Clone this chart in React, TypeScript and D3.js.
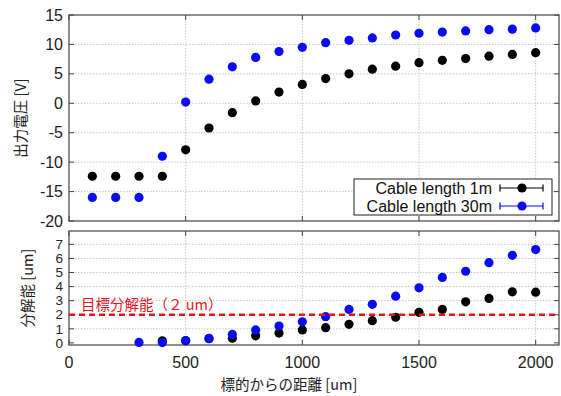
import React from "react";
import * as d3 from "d3";

const distances = [100, 200, 300, 400, 500, 600, 700, 800, 900, 1000, 1100, 1200, 1300, 1400, 1500, 1600, 1700, 1800, 1900, 2000];
const voltage1m = [-12.4, -12.4, -12.4, -12.4, -7.9, -4.2, -1.6, 0.4, 1.9, 3.2, 4.2, 5.0, 5.8, 6.3, 6.9, 7.3, 7.6, 8.0, 8.3, 8.6];
const voltage30m = [-16, -16, -16, -9.0, 0.2, 4.1, 6.2, 7.8, 8.8, 9.5, 10.3, 10.7, 11.1, 11.6, 11.9, 12.1, 12.3, 12.5, 12.6, 12.8];
const resDistances = [400, 500, 600, 700, 800, 900, 1000, 1100, 1200, 1300, 1400, 1500, 1600, 1700, 1800, 1900, 2000];
const resolution1m = [0.15, 0.15, 0.3, 0.33, 0.5, 0.7, 0.92, 1.08, 1.32, 1.58, 1.82, 2.17, 2.38, 2.92, 3.16, 3.63, 3.6];
const resDistances30m = [300, 400, 500, 600, 700, 800, 900, 1000, 1100, 1200, 1300, 1400, 1500, 1600, 1700, 1800, 1900, 2000];
const resolution30m = [0.03, 0.02, 0.17, 0.33, 0.6, 0.92, 1.2, 1.5, 1.86, 2.38, 2.74, 3.32, 3.91, 4.65, 5.09, 5.7, 6.22, 6.63];
const xTicks = [0, 500, 1000, 1500, 2000];
const voltageTicks = [15, 10, 5, 0, -5, -10, -15, -20];
const resolutionTicks = [0, 1, 2, 3, 4, 5, 6, 7];
const targetResolution = 2;
const legendLabels = ["Cable length 1m", "Cable length 30m"];

const W = 561;
const H = 396;
const left = 69;
const right = 559;
const topPanel = { top: 15, bottom: 221 };
const botPanel = { top: 231, bottom: 345 };
const BLUE = "#0a0af5";
const BLACK = "#000";
const FONT = "Liberation Sans, Arial, sans-serif";
const CJK = "Noto Sans CJK JP, sans-serif";

export default function App() {
  const x = d3.scaleLinear().domain([0, 2100]).range([left, right]);
  const yTop = d3.scaleLinear().domain([-20, 15]).range([topPanel.bottom, topPanel.top]);
  const yBot = d3.scaleLinear().domain([-0.15, 7.95]).range([botPanel.bottom, botPanel.top]);
  const tickLen = 5;
  const frame = "#444";
  const grid = "#c8c8c8";

  const panel = (
    y: d3.ScaleLinear<number, number>,
    p: { top: number; bottom: number },
    yt: number[],
    fs: number,
    key: string
  ) => (
    <g key={key}>
      {yt.map((t) =>
        y(t) > p.top + 1 && y(t) < p.bottom - 3 ? (
          <line key={"hg" + t} x1={left} x2={right} y1={y(t)} y2={y(t)} stroke={grid} strokeDasharray="1.5,1.5" />
        ) : null
      )}
      {xTicks.map((t) =>
        x(t) > left + 1 ? (
          <line key={"vg" + t} x1={x(t)} x2={x(t)} y1={p.top} y2={p.bottom} stroke={grid} strokeDasharray="1.5,1.5" />
        ) : null
      )}
      {yt.map((t) => (
        <g key={"yt" + t}>
          <line x1={left} x2={left + tickLen} y1={y(t)} y2={y(t)} stroke={frame} />
          <line x1={right - tickLen} x2={right} y1={y(t)} y2={y(t)} stroke={frame} />
          <text x={left - 6} y={y(t)} dy="0.35em" textAnchor="end" fontFamily={FONT} fontSize={fs} fill="#222">
            {t}
          </text>
        </g>
      ))}
      {xTicks.map((t) => (
        <g key={"xt" + t}>
          <line x1={x(t)} x2={x(t)} y1={p.bottom} y2={p.bottom - tickLen} stroke={frame} />
          <line x1={x(t)} x2={x(t)} y1={p.top} y2={p.top + tickLen} stroke={frame} />
        </g>
      ))}
      <rect x={left} y={p.top} width={right - left} height={p.bottom - p.top} fill="none" stroke={frame} strokeWidth={1.2} />
    </g>
  );

  const r = 4.6;

  return (
    <svg width={W} height={H} style={{ position: "absolute", left: 0, top: 0, background: "#fff" }}>
      <rect width={W} height={H} fill="#fff" />
      {panel(yTop, topPanel, voltageTicks, 16, "top")}
      {panel(yBot, botPanel, resolutionTicks, 13.5, "bot")}

      {/* top data */}
      {distances.map((d, i) => (
        <circle key={"b1" + i} cx={x(d)} cy={yTop(voltage1m[i])} r={r} fill={BLACK} />
      ))}
      {distances.map((d, i) => (
        <circle key={"b30" + i} cx={x(d)} cy={yTop(voltage30m[i])} r={r} fill={BLUE} />
      ))}

      {/* legend */}
      <rect x={354} y={179} width={198} height={36} fill="#fff" stroke="#222" strokeWidth={1} />
      {legendLabels.map((lab, i) => {
        const cy = 188 + i * 18;
        const col = i === 0 ? BLACK : BLUE;
        return (
          <g key={lab}>
            <text x={492} y={cy} dy="0.35em" textAnchor="end" fontFamily={FONT} fontSize={16} fill="#111">
              {lab}
            </text>
            <line x1={500} x2={543} y1={cy} y2={cy} stroke={col} strokeWidth={1.2} />
            <line x1={500} x2={500} y1={cy - 3.5} y2={cy + 3.5} stroke={col} strokeWidth={1.2} />
            <line x1={543} x2={543} y1={cy - 3.5} y2={cy + 3.5} stroke={col} strokeWidth={1.2} />
            <circle cx={522} cy={cy} r={r} fill={col} />
          </g>
        );
      })}

      {/* bottom data */}
      {resDistances.map((d, i) => (
        <circle key={"r1" + i} cx={x(d)} cy={yBot(resolution1m[i])} r={r} fill={BLACK} />
      ))}
      {resDistances30m.map((d, i) => (
        <circle key={"r30" + i} cx={x(d)} cy={yBot(resolution30m[i])} r={r} fill={BLUE} />
      ))}
      <line x1={left} x2={right} y1={yBot(targetResolution)} y2={yBot(targetResolution)} stroke="#e8141b" strokeWidth={2.5} strokeDasharray="6,4" />
      <text x={81} y={305} dy="0.35em" fontFamily={CJK} fontSize={14.5} fill="#e8141b">
        目標分解能（２ um）
      </text>

      {/* x tick labels */}
      {xTicks.map((t) => (
        <text key={"xl" + t} x={x(t)} y={362} dy="0.35em" textAnchor="middle" fontFamily={FONT} fontSize={16} fill="#222">
          {t}
        </text>
      ))}

      {/* axis titles */}
      <text x={289} y={385} dy="0.35em" textAnchor="middle" fontFamily={CJK} fontSize={14.5} fill="#222">
        標的からの距離 [um]
      </text>
      <text transform={`translate(21,118) rotate(-90)`} dy="0.35em" textAnchor="middle" fontFamily={CJK} fontSize={14.5} fill="#222">
        出力電圧 [V]
      </text>
      <text transform={`translate(28,288) rotate(-90)`} dy="0.35em" textAnchor="middle" fontFamily={CJK} fontSize={14.5} fill="#222">
        分解能 [um]
      </text>
    </svg>
  );
}
